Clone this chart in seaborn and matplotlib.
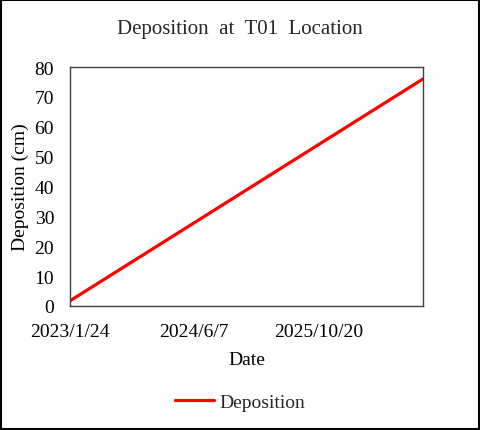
import matplotlib
matplotlib.use("Agg")
import matplotlib.pyplot as plt
import matplotlib.patches as patches
import seaborn as sns
import pandas as pd

# DATA
dates = ["2023-01-24", "2026-12-14"]
deposition = [1.7, 76.0]
tick_dates = ["2023-01-24", "2024-06-07", "2025-10-20"]
tick_labels = ["2023/1/24", "2024/6/7", "2025/10/20"]

df = pd.DataFrame({
    "Date": pd.to_datetime(dates),
    "Deposition": deposition
})

# STYLE SETTINGS
sns.set_style("white")
plt.rcParams["font.family"] = ["Liberation Serif", "DejaVu Serif"]

fig = plt.figure(figsize=(4.8, 4.31), dpi=100)
ax = fig.add_axes([0.146, 0.288, 0.735, 0.554])

sns.lineplot(
    data=df,
    x="Date",
    y="Deposition",
    color="#ff0000",
    linewidth=2.3,
    label="Deposition",
    ax=ax
)

ax.set_xlim(df["Date"].min(), df["Date"].max())
ax.set_ylim(0, 80)
ax.set_yticks(range(0, 81, 10))
ax.set_xticks(pd.to_datetime(tick_dates))
ax.set_xticklabels(tick_labels)
ax.tick_params(axis="both", labelsize=14, length=0, colors="black")
ax.tick_params(axis="x", pad=12)
ax.tick_params(axis="y", pad=11.5)

for spine in ax.spines.values():
    spine.set_color("#404040")
    spine.set_linewidth(1)

ax.set_xlabel("Date", fontsize=14, labelpad=8, color="black")
ax.set_ylabel("Deposition (cm)", fontsize=14, labelpad=4, color="black")

# title with wide word spacing like the original
fig.text(0.5, 0.932, "Deposition  at  T01  Location",
         ha="center", va="center", fontsize=15, color="#262626")

ax.get_legend().remove()
handles, labels = ax.get_legend_handles_labels()
fig.legend(
    handles, labels,
    loc="center",
    bbox_to_anchor=(0.5, 0.064),
    frameon=False,
    fontsize=14,
    handlelength=2.0,
    handletextpad=0.3
)

fig.patches.append(
    patches.Rectangle(
        (0.002, 0.002), 0.996, 0.996,
        transform=fig.transFigure,
        fill=False,
        edgecolor="black",
        linewidth=1.5
    )
)

fig.savefig("out.png", dpi=100, facecolor="white")
plt.close()
